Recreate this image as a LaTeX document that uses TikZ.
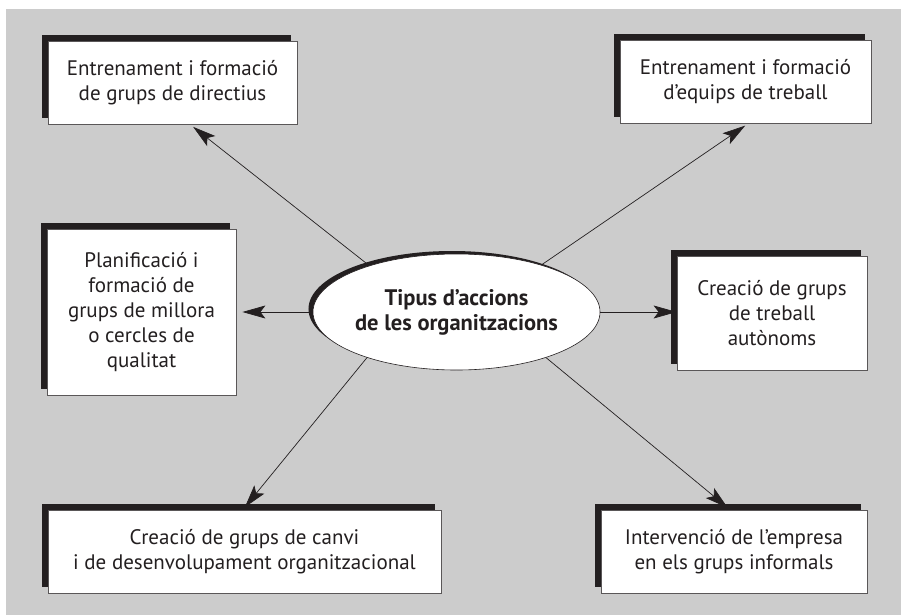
\documentclass[tikz,border=0pt]{standalone}
\usepackage{fontspec}
\setmainfont{PT Sans}
\usetikzlibrary{arrows.meta,shapes.geometric,shadows,calc}
\definecolor{bg}{RGB}{204,204,204}
\definecolor{ink}{RGB}{35,31,32}
\begin{document}
\begin{tikzpicture}[x=1pt,y=-1pt,
  every node/.style={font=\fontsize{21}{25}\selectfont, text=ink},
  box/.style={draw=ink!75, line width=0.8pt, fill=white, inner sep=0pt, align=center,
    general shadow={fill=ink, shadow xshift=-6pt, shadow yshift=6pt}},
  hub/.style={ellipse, draw=ink, line width=0.6pt, fill=white, inner sep=0pt, align=center,
    minimum width=279pt, minimum height=116pt,
    font=\fontsize{22.5}{25}\selectfont\bfseries,
    general shadow={fill=ink, shadow xshift=-4.5pt, shadow yshift=3pt}},
  arr/.style={-{Stealth[length=23pt,width=13pt,inset=5pt]}, line width=0.7pt, draw=ink}]
\useasboundingbox (0,0) rectangle (901,615);
\fill[bg] (6,9) rectangle (901,615);

\node[box, minimum width=249pt, minimum height=83pt] (b1) at (172.5,82.5)
  {Entrenament i formació\\de grups de directius};
\node[box, minimum width=251pt, minimum height=83pt] (b2) at (745.5,81.5)
  {Entrenament i formació\\d’equips de treball};
\node[box, minimum width=189pt, minimum height=166pt] (b3) at (141.5,312)
  {Planificació i\\formació de\\grups de millora\\o cercles de\\qualitat};
\node[box, minimum width=190pt, minimum height=114pt] (b4) at (772,313)
  {Creació de grups\\de treball\\autònoms};
\node[box, minimum width=393pt, minimum height=83pt] (b5) at (244.5,551.5)
  {Creació de grups de canvi\\i de desenvolupament organitzacional};
\node[box, minimum width=266pt, minimum height=83pt] (b6) at (734,551.5)
  {Intervenció de l’empresa\\en els grups informals};

\node[hub] (ell) at (456.5,312) {Tipus d’accions\\de les organitzacions};

\draw[arr, shorten >=4pt] (ell.152) -- ($(b1.south west)!0.57!(b1.south east)$);
\draw[arr, shorten >=4pt] (ell.29) -- ($(b2.south west)!0.512!(b2.south east)$);
\draw[arr, shorten >=6pt] (ell.west) -- (ell.west -| b3.east);
\draw[arr] (ell.east) -- (ell.east -| b4.west);
\draw[arr, shorten >=3pt] (ell.207) -- ($(b5.north west)!0.496!(b5.north east)$);
\draw[arr, shorten >=3pt] (ell.333) -- ($(b6.north west)!0.485!(b6.north east)$);
\end{tikzpicture}
\end{document}
